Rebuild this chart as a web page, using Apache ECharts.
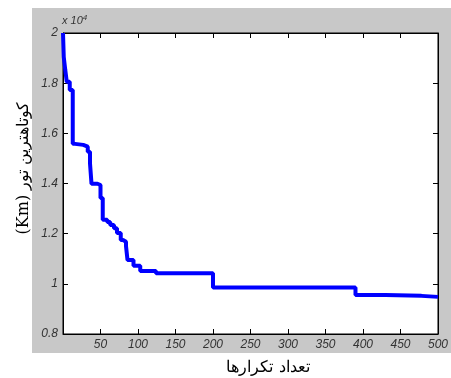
<!DOCTYPE html>
<html><head><meta charset="utf-8">
<script src="https://cdn.jsdelivr.net/npm/echarts@6/dist/echarts.min.js"></script>
<style>html,body{margin:0;padding:0;background:#fff}#c{width:451px;height:378px}</style>
</head><body><div id="c"></div>
<script>
// iteration at which a new best tour was found
const iterations = [0, 1, 3, 5, 9, 13, 16, 27, 33, 36, 38, 46, 50, 53, 59, 63, 68, 72, 77, 80, 84, 86, 94, 103, 124, 200, 390, 430, 478, 500];
// shortest tour length (km)
const tourKm = [20000, 19040, 18530, 18060, 17730, 15580, 15540, 15470, 15270, 14800, 13990, 13940, 13420, 12550, 12470, 12350, 12220, 12030, 11750, 11680, 11510, 10950, 10720, 10510, 10420, 9850, 9550, 9520, 9480, 9480];
const xTicks = [50, 100, 150, 200, 250, 300, 350, 400, 450, 500];
const yTickLabels = ['0.8', '1', '1.2', '1.4', '1.6', '1.8', '2'];
const xTitle = 'تعداد تکرارها';
const yTitle = 'کوتاهترین تور (Km)';

const chart = echarts.init(document.getElementById('c'), null, {renderer: 'canvas'});
const labelStyle = {color: '#333', fontStyle: 'italic', fontFamily: 'Liberation Sans, Arial, sans-serif', fontSize: 12};
const axisCommon = {
  axisLine: {show: true, onZero: false, lineStyle: {color: '#000', width: 1}},
  axisTick: {show: true, inside: true, length: 5, lineStyle: {color: '#000'}},
  splitLine: {show: false}
};
chart.setOption({
  animation: false,
  backgroundColor: '#fff',
  graphic: [
    {type: 'rect', z: -10, shape: {x: 32, y: 8, width: 419, height: 345}, style: {fill: '#c8c8c8'}},
    {type: 'text', left: 62, top: 14, style: {text: '{a|x 10}{b|4}', rich: {a: {fontSize: 11, fontStyle: 'italic', fill: '#333', fontFamily: 'Liberation Sans, Arial, sans-serif'}, b: {fontSize: 8, fontStyle: 'italic', fill: '#333', verticalAlign: 'top', padding: [0,0,6,0], fontFamily: 'Liberation Sans, Arial, sans-serif'}}}},
    {type: 'text', x: 268, y: 368, style: {text: xTitle, fontSize: 16, fill: '#000', align: 'center', verticalAlign: 'middle', fontFamily: 'DejaVu Serif, Liberation Serif, serif'}},
    {type: 'text', x: 24, y: 168, rotation: Math.PI / 2, style: {text: '\u202B' + yTitle + '\u202C', fontSize: 16, fill: '#000', align: 'center', verticalAlign: 'middle', fontFamily: 'DejaVu Serif, Liberation Serif, serif'}}
  ],
  grid: {left: 63, top: 33, right: 5, bottom: 44, show: true, backgroundColor: '#fff', borderColor: '#000', borderWidth: 1},
  xAxis: [
    Object.assign({type: 'value', min: 0, max: 500, interval: 50, position: 'bottom',
      axisLabel: Object.assign({margin: 5, formatter: v => xTicks.includes(v) ? String(v) : ''}, labelStyle)}, axisCommon),
    Object.assign({type: 'value', min: 0, max: 500, interval: 50, position: 'top', axisLabel: {show: false}}, axisCommon)
  ],
  yAxis: [
    Object.assign({type: 'value', min: 8000, max: 20000, interval: 2000, position: 'left',
      axisLabel: Object.assign({margin: 5, formatter: v => yTickLabels[Math.round((v - 8000) / 2000)]}, labelStyle)}, axisCommon),
    Object.assign({type: 'value', min: 8000, max: 20000, interval: 2000, position: 'right', axisLabel: {show: false}}, axisCommon)
  ],
  series: [{
    type: 'line', step: 'end', showSymbol: false, symbol: 'none',
    xAxisIndex: 0, yAxisIndex: 0,
    data: iterations.map((x, i) => [x, tourKm[i]]),
    lineStyle: {color: '#0000ff', width: 4}
  }]
});
</script></body></html>
